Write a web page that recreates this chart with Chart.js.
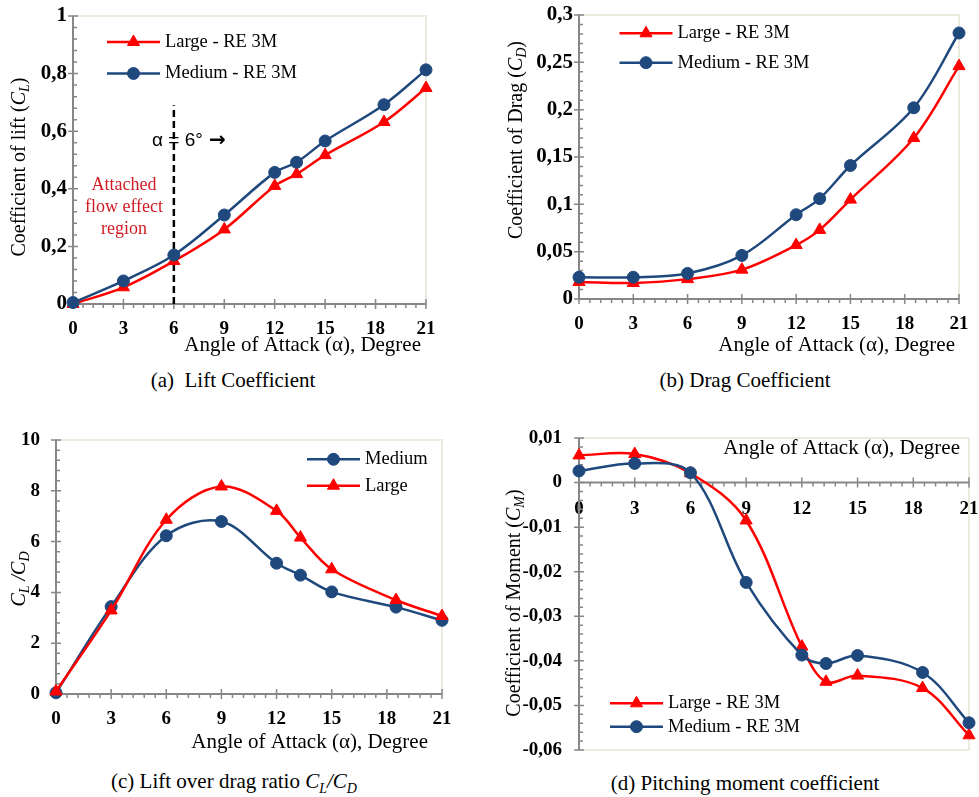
<!DOCTYPE html>
<html lang="en">
<head>
  <meta charset="UTF-8" />
  <title>Aerodynamic coefficients</title>
  <script src="https://cdn.jsdelivr.net/npm/chart.js"></script>
  <style>
    body {
      margin: 0;
      background: #fff;
      font-family: 'Liberation Serif', 'Times New Roman', serif;
    }

    #page {
      position: relative;
      width: 979px;
      height: 797px;
      overflow: hidden;
    }

    canvas {
      position: absolute;
    }

    .caption {
      position: absolute;
      font-size: 21px;
      color: #000;
      white-space: nowrap;
      transform: translate(-50%, -50%);
    }

    .caption sub {
      font-size: 14px;
    }
  </style>
</head>

<body>
  <div id="page">
    <canvas id="liftChart" width="490" height="362" style="left:0;top:0"></canvas>
    <canvas id="dragChart" width="489" height="362" style="left:490px;top:0"></canvas>
    <canvas id="ratioChart" width="490" height="345" style="left:0;top:420px"></canvas>
    <canvas id="momentChart" width="489" height="345" style="left:490px;top:420px"></canvas>

    <div class="caption" style="left:233px;top:380px">(a)&nbsp; Lift Coefficient</div>
    <div class="caption" style="left:745px;top:380px">(b) Drag Coefficient</div>
    <div class="caption" style="left:234px;top:783px">(c) Lift over drag ratio <i>C<sub>L</sub>/C<sub>D</sub></i></div>
    <div class="caption" style="left:745px;top:783px">(d) Pitching moment coefficient</div>
  </div>

  <script>
    // angle of attack (deg)
    const alpha = [0, 3, 6, 9, 12, 13.3, 15, 18.5, 21];
    const alphaTicks = [0, 3, 6, 9, 12, 15, 18, 21];

    const liftLarge = [0.000, 0.058, 0.149, 0.259, 0.410, 0.451, 0.517, 0.632, 0.750];
    const liftMedium = [0.005, 0.080, 0.170, 0.309, 0.457, 0.492, 0.566, 0.692, 0.813];
    const liftTicks = [0, 0.2, 0.4, 0.6, 0.8, 1];

    const dragLarge = [0.018, 0.017, 0.021, 0.031, 0.057, 0.073, 0.105, 0.170, 0.246];
    const dragMedium = [0.023, 0.023, 0.027, 0.046, 0.089, 0.106, 0.141, 0.202, 0.281];
    const dragTicks = [0, 0.05, 0.1, 0.15, 0.2, 0.25, 0.3];

    const ratioMedium = [0.05, 3.44, 6.23, 6.79, 5.15, 4.68, 4.02, 3.42, 2.90];
    const ratioLarge = [0.10, 3.29, 6.86, 8.17, 7.21, 6.16, 4.91, 3.70, 3.07];
    const ratioTicks = [0, 2, 4, 6, 8, 10];

    const momentLarge = [0.0061, 0.0064, 0.0021, -0.0085, -0.0368, -0.0447, -0.0433, -0.0461, -0.0567];
    const momentMedium = [0.0026, 0.0043, 0.0022, -0.0224, -0.0387, -0.0406, -0.0388, -0.0426, -0.0539];
    const momentTicks = [-0.06, -0.05, -0.04, -0.03, -0.02, -0.01, 0, 0.01];

    // attached flow limit marker in (a)
    const attachedAlpha = [6, 6];
    const attachedLift = [0, 0.69];

    const RED = '#ff0000';
    const BLUE = '#1f497d';
    const serif = '"Liberation Serif", "Times New Roman", serif';
    const F_TITLE = '20px ' + serif;
    const F_ITAL = 'italic 20px ' + serif;
    const F_SUB = 'italic 14px ' + serif;

    Chart.defaults.font.family = serif;
    Chart.defaults.color = '#000';

    const large = { color: RED, pointStyle: 'triangle', radius: 7 };
    const medium = { color: BLUE, pointStyle: 'circle', radius: 6 };

    const decor = {}; // per canvas extras, looked up by the plugin

    function points(xs, ys) {
      return xs.map((x, i) => ({ x: x, y: ys[i] }));
    }

    function fmtTick(v) {
      return String(Math.round(v * 10000) / 10000).replace('.', ',');
    }

    function drawRich(ctx, parts, x, y) {
      let total = 0;
      const w = parts.map(p => {
        ctx.font = p[1];
        const m = ctx.measureText(p[0]).width;
        total += m;
        return m;
      });
      let cx = x - total / 2;
      parts.forEach((p, i) => {
        ctx.font = p[1];
        ctx.fillText(p[0], cx, y + (p[2] || 0));
        cx += w[i];
      });
    }

    const axisDecor = {
      id: 'axisDecor',
      beforeDatasetsDraw(chart) {
        const d = decor[chart.canvas.id];
        const ctx = chart.ctx;
        const a = chart.chartArea;
        const xs = chart.scales.x, ys = chart.scales.y;
        const axisY = d.xAxisAtZero ? ys.getPixelForValue(0) : a.bottom;
        ctx.save();
        // plot area frame
        ctx.strokeStyle = '#ece9de';
        ctx.lineWidth = 2;
        ctx.strokeRect(a.left, a.top, a.right - a.left, a.bottom - a.top);
        // axis lines
        ctx.strokeStyle = '#878787';
        ctx.lineWidth = 2;
        ctx.beginPath();
        ctx.moveTo(a.left, a.top);
        ctx.lineTo(a.left, a.bottom);
        ctx.moveTo(a.left, axisY);
        ctx.lineTo(a.right, axisY);
        ctx.stroke();
        // tick marks
        ctx.lineWidth = 1.5;
        ctx.beginPath();
        let n = Math.round((xs.max - xs.min) / d.xMinor);
        for (let i = 0; i <= n; i++) {
          const px = xs.getPixelForValue(xs.min + i * d.xMinor);
          ctx.moveTo(px, axisY);
          ctx.lineTo(px, axisY + 4);
        }
        xs.ticks.forEach(t => {
          const px = xs.getPixelForValue(t.value);
          ctx.moveTo(px, axisY - 5);
          ctx.lineTo(px, axisY + 5);
        });
        n = Math.round((ys.max - ys.min) / d.yMinor);
        for (let i = 0; i <= n; i++) {
          const py = ys.getPixelForValue(ys.min + i * d.yMinor);
          ctx.moveTo(a.left, py);
          ctx.lineTo(a.left + 4, py);
        }
        ys.ticks.forEach(t => {
          const py = ys.getPixelForValue(t.value);
          ctx.moveTo(a.left - 5, py);
          ctx.lineTo(a.left + 5, py);
        });
        ctx.stroke();
        ctx.restore();
      },
      afterDatasetsDraw(chart) {
        const d = decor[chart.canvas.id];
        const ctx = chart.ctx;
        ctx.save();
        ctx.textBaseline = 'middle';

        // legend
        d.series.forEach((s, i) => {
          const y = d.legend.y + i * d.legend.dy;
          const x0 = d.legend.x;
          ctx.strokeStyle = s.style.color;
          ctx.fillStyle = s.style.color;
          ctx.lineWidth = 2.5;
          ctx.beginPath();
          ctx.moveTo(x0, y);
          ctx.lineTo(x0 + 53, y);
          ctx.stroke();
          ctx.lineWidth = 1;
          Chart.helpers.drawPoint(ctx, {
            pointStyle: s.style.pointStyle, radius: s.style.radius, borderWidth: 1, rotation: 0
          }, x0 + 26.5, y);
          ctx.fillStyle = '#000';
          ctx.font = '18.5px ' + serif;
          ctx.textAlign = 'left';
          ctx.fillText(s.label, x0 + 58, y);
        });

        // x title
        ctx.fillStyle = '#000';
        ctx.font = '21px ' + serif;
        ctx.textAlign = 'right';
        ctx.fillText('Angle of Attack (\u03b1), Degree', d.xTitle.right, d.xTitle.y);

        // y title, rotated
        ctx.textAlign = 'left';
        ctx.save();
        ctx.translate(d.yTitle.x, d.yTitle.y);
        ctx.rotate(-Math.PI / 2);
        drawRich(ctx, d.yTitle.parts, 0, 0);
        ctx.restore();

        if (d.notes) d.notes(ctx, chart);
        ctx.restore();
      }
    };
    Chart.register(axisDecor);

    function makeChart(id, cfg) {
      const canvas = document.getElementById(id);
      const W = canvas.width, H = canvas.height, a = cfg.area;
      decor[id] = cfg;

      const datasets = cfg.series.map((s, i) => ({
        label: s.label,
        data: points(alpha, s.values),
        borderColor: s.style.color,
        backgroundColor: s.style.color,
        borderWidth: 2.5,
        pointStyle: s.style.pointStyle,
        pointRadius: s.style.radius,
        pointBorderWidth: 1,
        tension: 0.35,
        clip: false,
        order: cfg.series.length - 1 - i
      }));
      if (cfg.extra) datasets.push(...cfg.extra);

      return new Chart(canvas.getContext('2d'), {
        type: 'line',
        data: { datasets: datasets },
        options: {
          responsive: false,
          animation: false,
          events: [],
          layout: {
            padding: {
              top: a.top,
              right: W - a.right,
              left: 0,
              bottom: cfg.xAxisAtZero ? H - a.bottom : 0
            }
          },
          plugins: { legend: { display: false }, tooltip: { enabled: false } },
          scales: {
            x: {
              type: 'linear',
              min: 0,
              max: 21,
              position: cfg.xAxisAtZero ? { y: 0 } : 'bottom',
              afterBuildTicks: s => { s.ticks = alphaTicks.map(v => ({ value: v })); },
              afterFit: s => {
                if (!cfg.xAxisAtZero) s.height = H - a.bottom;
                s.paddingLeft = 0;
                s.paddingRight = 0;
              },
              grid: { display: false, drawTicks: false },
              border: { display: false },
              ticks: {
                padding: cfg.xPad,
                maxRotation: 0,
                autoSkip: false,
                font: { size: 19, weight: 'bold' }
              }
            },
            y: {
              type: 'linear',
              min: cfg.yTicks[0],
              max: cfg.yTicks[cfg.yTicks.length - 1],
              afterBuildTicks: s => { s.ticks = cfg.yTicks.map(v => ({ value: v })); },
              afterFit: s => {
                s.width = a.left;
                s.paddingTop = 0;
                s.paddingBottom = 0;
              },
              grid: { display: false, drawTicks: false },
              border: { display: false },
              ticks: {
                padding: cfg.yPad,
                autoSkip: false,
                callback: fmtTick,
                font: { size: cfg.yFont, weight: 'bold' }
              }
            }
          }
        }
      });
    }

    makeChart('liftChart', {
      area: { left: 73, top: 16, right: 426, bottom: 304 },
      series: [
        { label: 'Large - RE 3M', values: liftLarge, style: large },
        { label: 'Medium - RE 3M', values: liftMedium, style: medium }
      ],
      extra: [{
        data: points(attachedAlpha, attachedLift),
        borderColor: '#000',
        borderWidth: 2.5,
        borderDash: [7, 4],
        pointRadius: 0,
        tension: 0,
        order: 10
      }],
      yTicks: liftTicks,
      yFont: 21, yPad: 6, xPad: 14,
      xMinor: 0.6,
      yMinor: 0.04,
      legend: { x: 107, y: 42, dy: 31.5 },
      xTitle: { right: 421, y: 345 },
      yTitle: {
        x: 20, y: 167,
        parts: [['Coefficient of lift (', F_TITLE], ['C', F_ITAL], ['L', F_SUB, 5], [')', F_TITLE]]
      },
      notes: (ctx, chart) => {
        ctx.fillStyle = '#000';
        ctx.font = '19px "Liberation Sans", "DejaVu Sans", sans-serif';
        ctx.textAlign = 'left';
        ctx.fillText('\u03b1 = 6\u00b0', 152, 141);
        ctx.font = 'bold 20px "DejaVu Sans", sans-serif';
        ctx.fillText('\u2192', 209, 141);
        ctx.fillStyle = '#d01c24';
        ctx.font = '18px ' + serif;
        ctx.textAlign = 'center';
        ctx.fillText('Attached', 124, 185);
        ctx.fillText('flow effect', 124, 207);
        ctx.fillText('region', 124, 229);
      }
    });

    makeChart('dragChart', {
      area: { left: 89, top: 15, right: 469, bottom: 299 },
      series: [
        { label: 'Large - RE 3M', values: dragLarge, style: large },
        { label: 'Medium - RE 3M', values: dragMedium, style: medium }
      ],
      yTicks: dragTicks,
      yFont: 21, yPad: 6, xPad: 14,
      xMinor: 0.6,
      yMinor: 0.01,
      legend: { x: 129.5, y: 33.3, dy: 29.4 },
      xTitle: { right: 465, y: 345 },
      yTitle: {
        x: 27, y: 140,
        parts: [['Coefficient of Drag (', F_TITLE], ['C', F_ITAL], ['D', F_SUB, 5], [')', F_TITLE]]
      }
    });

    makeChart('ratioChart', {
      area: { left: 56, top: 20, right: 442, bottom: 274 },
      series: [
        { label: 'Medium', values: ratioMedium, style: medium },
        { label: 'Large', values: ratioLarge, style: large }
      ],
      yTicks: ratioTicks,
      yFont: 19, yPad: 16, xPad: 14,
      xMinor: 0.6,
      yMinor: 0.4,
      legend: { x: 307, y: 39.3, dy: 26.4 },
      xTitle: { right: 428, y: 322 },
      yTitle: {
        x: 20, y: 159,
        parts: [['C', F_ITAL], ['L', F_SUB, 5], [' /', F_ITAL], ['C', F_ITAL], ['D', F_SUB, 5]]
      }
    });

    makeChart('momentChart', {
      area: { left: 89, top: 18, right: 479, bottom: 330 },
      xAxisAtZero: true,
      series: [
        { label: 'Large - RE 3M', values: momentLarge, style: large },
        { label: 'Medium - RE 3M', values: momentMedium, style: medium }
      ],
      yTicks: momentTicks,
      yFont: 19, yPad: 17, xPad: 15,
      xMinor: 0.6,
      yMinor: 0.002,
      legend: { x: 120, y: 283.3, dy: 23.4 },
      xTitle: { right: 470, y: 28 },
      yTitle: {
        x: 25, y: 183,
        parts: [['Coefficient of Moment (', F_TITLE], ['C', F_ITAL], ['M', F_SUB, 5], [')', F_TITLE]]
      }
    });
  </script>
</body>
</html>
